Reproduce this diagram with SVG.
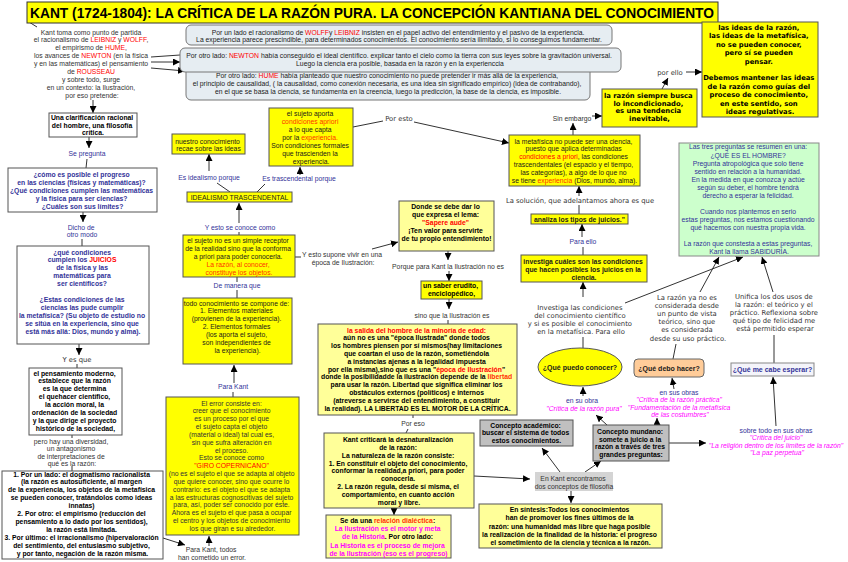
<svg xmlns="http://www.w3.org/2000/svg" width="848" height="562" viewBox="0 0 848 562">
<style>
.a{font-family:"Liberation Sans",Arial,sans-serif;font-size:6.8px;text-anchor:middle;fill:#1a1a1a}
.v{font-family:"DejaVu Sans",Verdana,sans-serif;font-size:6.8px;text-anchor:middle;fill:#333}
.b{font-weight:bold}
.g{fill:#333}
.bl{fill:#333399}
.r{fill:#ff0000}
.o{fill:#ff3300}
.m{fill:#ff00ff;font-style:italic}
.mb{fill:#ff00ff}
.y{fill:#ffff00;stroke:#555;stroke-width:1}
.ly{fill:#ffff99;stroke:#555;stroke-width:1}
.w{fill:#fff;stroke:#555;stroke-width:1}
.gr{fill:#c0c0c0;stroke:#555;stroke-width:1}
.bg{fill:#e6edf2;stroke:#777;stroke-width:1}
.c line,.c path{stroke:#333;stroke-width:1;fill:none}
.c .h{marker-end:url(#ah)}
</style>
<defs>
<marker id="ah" markerWidth="8" markerHeight="7" refX="7" refY="3.5" orient="auto" markerUnits="userSpaceOnUse"><path d="M0,0 L7,3.5 L0,7 Z" fill="#000"/></marker>
</defs>
<rect width="848" height="562" fill="#fff"/>

<g class="c" id="connectors">
<line x1="29" y1="22" x2="37" y2="27"/>
<line x1="151" y1="57" x2="180" y2="55"/>
<line class="h" x1="151" y1="62" x2="180" y2="62"/>
<line class="h" x1="151" y1="68" x2="185" y2="71"/>
<line class="h" x1="93" y1="100" x2="93" y2="113"/>
<line class="h" x1="89" y1="137" x2="89" y2="148"/>
<line x1="87" y1="159" x2="86" y2="168"/>
<line class="h" x1="83" y1="212" x2="83" y2="222"/>
<line x1="82" y1="239" x2="82" y2="246"/>
<line class="h" x1="79" y1="344" x2="79" y2="355"/>
<line x1="77" y1="364" x2="77" y2="368"/>
<line x1="72" y1="435" x2="72" y2="438"/>
<line x1="72" y1="466" x2="72" y2="471"/>
<line class="h" x1="163" y1="538" x2="185" y2="545"/>
<line class="h" x1="209" y1="546" x2="209" y2="536"/>
<line class="h" x1="209" y1="171" x2="209" y2="154"/>
<line x1="230" y1="192" x2="217" y2="183"/>
<line x1="257" y1="192" x2="265" y2="184"/>
<line class="h" x1="300" y1="175" x2="300" y2="167"/>
<line class="h" x1="239" y1="223" x2="239" y2="203"/>
<line x1="239" y1="232" x2="239" y2="235"/>
<line x1="237" y1="277" x2="237" y2="282"/>
<line x1="237" y1="290" x2="237" y2="298"/>
<line class="h" x1="234" y1="383" x2="234" y2="365"/>
<line x1="233" y1="392" x2="233" y2="397"/>
<line x1="295" y1="257" x2="301" y2="257"/>
<line class="h" x1="372" y1="249" x2="398" y2="242"/>
<line class="h" x1="448" y1="251" x2="448" y2="260"/>
<line class="h" x1="449" y1="271" x2="449" y2="281"/>
<line class="h" x1="449" y1="299" x2="449" y2="309"/>
<line x1="448" y1="320" x2="448" y2="324"/>
<line x1="413" y1="415" x2="413" y2="418"/>
<line x1="408" y1="429" x2="406" y2="433"/>
<line class="h" x1="394" y1="508" x2="394" y2="515"/>
<line class="h" x1="474" y1="476" x2="530" y2="479"/>
<line class="h" x1="560" y1="472" x2="542" y2="448"/>
<line class="h" x1="585" y1="472" x2="601" y2="461"/>
<line class="h" x1="571" y1="491" x2="571" y2="503"/>
<line class="h" x1="607" y1="425" x2="596" y2="415"/>
<line class="h" x1="657" y1="425" x2="657" y2="418"/>
<line class="h" x1="669" y1="443" x2="706" y2="443"/>
<line class="h" x1="776" y1="426" x2="773" y2="377"/>
<line class="h" x1="583" y1="396" x2="583" y2="387"/>
<line class="h" x1="674" y1="389" x2="672" y2="378"/>
<line x1="583" y1="337" x2="583" y2="348"/>
<line x1="676" y1="344" x2="673" y2="359"/>
<line x1="774" y1="335" x2="774" y2="363"/>
<line class="h" x1="700" y1="292" x2="719" y2="257"/>
<line class="h" x1="625" y1="303" x2="743" y2="257"/>
<line class="h" x1="773" y1="292" x2="762" y2="257"/>
<line class="h" x1="583" y1="297" x2="583" y2="282"/>
<line x1="583" y1="247" x2="583" y2="255"/>
<line class="h" x1="582" y1="237" x2="582" y2="224"/>
<line x1="579" y1="205" x2="579" y2="214"/>
<line class="h" x1="579" y1="196" x2="579" y2="186"/>
<line class="h" x1="573" y1="135" x2="573" y2="123"/>
<line class="h" x1="592" y1="116" x2="602" y2="116"/>
<line class="h" x1="662" y1="89" x2="668" y2="78"/>
<line class="h" x1="686" y1="72" x2="702" y2="72"/>
<line x1="353" y1="127" x2="383" y2="121"/>
<line class="h" x1="414" y1="122" x2="509" y2="143"/>
</g>

<g id="title">
<rect x="27" y="2" width="691" height="21" fill="#ffff00" stroke="#333"/>
<text x="30" y="18.3" font-family="Liberation Sans,Arial,sans-serif" font-size="15.5" font-weight="bold" fill="#000" textLength="684" lengthAdjust="spacingAndGlyphs">KANT (1724-1804): LA CRÍTICA DE LA RAZÓN PURA. LA CONCEPCIÓN KANTIANA DEL CONOCIMIENTO</text>
</g>

<g id="intro">
<text class="a g">
<tspan x="92" y="34.5">Kant toma como punto de partida</tspan>
<tspan x="92" y="42.4">el racionalismo de <tspan class="r">LEIBNIZ</tspan> y <tspan class="r">WOLFF</tspan>,</tspan>
<tspan x="92" y="50.3">el empirismo de <tspan class="r">HUME</tspan>,</tspan>
<tspan x="92" y="58.2">los avances de <tspan class="r">NEWTON</tspan> (en la física</tspan>
<tspan x="92" y="66.1">y en las matemáticas) el pensamiento</tspan>
<tspan x="92" y="74">de <tspan class="r">ROUSSEAU</tspan></tspan>
<tspan x="92" y="81.9">y sobre todo, surge</tspan>
<tspan x="92" y="89.8">en un contexto: la Ilustración,</tspan>
<tspan x="92" y="97.7">por eso pretende:</tspan>
</text>
</g>

<g id="racionalismo">
<rect class="bg" x="186" y="25" width="426" height="20" rx="5"/>
<text class="a">
<tspan x="399" y="34.5">Por un lado el racionalismo de <tspan class="r">WOLFF</tspan>y <tspan class="r">LEIBNIZ</tspan> insisten en el papel activo del entendimiento y el pasivo de la experiencia.</tspan>
<tspan x="399" y="42.3">La experiencia parece prescindible, para determinados conocimientos. El conocimiento sería ilimitado, si lo conseguimos fundamentar.</tspan>
</text>
</g>

<g id="hume">
<rect class="bg" x="186" y="66" width="404" height="34" rx="5"/>
<text class="a">
<tspan x="388" y="78.4">Por otro lado: <tspan class="r">HUME</tspan> había planteado que nuestro conocimiento no puede pretender ir más allá de la experiencia,</tspan>
<tspan x="388" y="86.4">el principio de causalidad, ( la causalidad, como conexión necesaria, es una idea sin significado empírico) (idea de contrabando),</tspan>
<tspan x="388" y="94.4">en el que se basa la ciencia, se fundamenta en la creencia, luego la predicción, la base de la ciencia, es imposible.</tspan>
</text>
</g>

<g id="newton">
<rect class="bg" x="180" y="48" width="441" height="24" rx="5"/>
<text class="a">
<tspan x="400" y="58.4">Por otro lado: <tspan class="r">NEWTON</tspan> había conseguido el ideal científico. explicar tanto el cielo como la tierra con sus leyes sobre la gravitación universal.</tspan>
<tspan x="400" y="66">Luego la ciencia era posible, basada en la razón y en la experienccia</tspan>
</text>
</g>

<g id="ideas-razon">
<rect class="y" x="702" y="22" width="116" height="95"/>
<text class="v b" style="fill:#000">
<tspan x="760" y="29.8">las ideas de la razón,</tspan>
<tspan x="760" y="38.3">las ideas de la metafísica,</tspan>
<tspan x="760" y="46.7">no se pueden conocer,</tspan>
<tspan x="760" y="55.1">pero sí se pueden</tspan>
<tspan x="760" y="63.5">pensar.</tspan>
<tspan x="760" y="80.3">Debemos mantener las ideas</tspan>
<tspan x="760" y="88.7">de la razón como guías del</tspan>
<tspan x="760" y="97.1">proceso de conocimiento,</tspan>
<tspan x="760" y="105.5">en este sentido, son</tspan>
<tspan x="760" y="113.9">ideas regulativas.</tspan>
</text>
</g>

<g id="lbl-por-ello"><text class="v" x="670" y="74.5">por ello</text></g>

<g id="incondicionado">
<rect class="y" x="602" y="89" width="95" height="38"/>
<text class="v b" style="fill:#000">
<tspan x="649.5" y="97.5">la razón siempre busca</tspan>
<tspan x="649.5" y="105.6">lo incondicionado,</tspan>
<tspan x="649.5" y="113.4">es una tendencia</tspan>
<tspan x="649.5" y="121">inevitable,</tspan>
</text>
</g>

<g id="lbl-sin-embargo"><text class="a g" x="572" y="120.5">Sin embargo</text></g>
<g id="lbl-por-esto"><text class="v" x="399" y="120.5">Por esto</text></g>

<g id="metafisica">
<rect class="y" x="509" y="135" width="131" height="51"/>
<text class="a">
<tspan x="574.5" y="143.5">la metafísica no puede ser una ciencia,</tspan>
<tspan x="574.5" y="151.3">puesto que aplica determinadas</tspan>
<tspan x="574.5" y="159.1"><tspan class="r">condiciones a priori</tspan>, las condiciones</tspan>
<tspan x="574.5" y="166.9">trascendentales (el espacio y el tiempo,</tspan>
<tspan x="574.5" y="174.7">las categorías), a algo de lo que no</tspan>
<tspan x="574.5" y="182.5">se tiene <tspan class="o">experiencia</tspan> (Dios, mundo, alma).</tspan>
</text>
</g>

<g id="lbl-solucion"><text class="v" x="580" y="202.5">La solución, que adelantamos ahora es que</text></g>

<g id="analiza">
<rect class="y" x="531" y="214" width="97" height="10"/>
<text class="a b" x="579.5" y="221.5">analiza los tipos de juicios."</text>
</g>

<g id="lbl-para-ello"><text class="a bl" x="583" y="243.5">Para ello</text></g>

<g id="investiga">
<rect class="y" x="521" y="255" width="126" height="27"/>
<text class="a b">
<tspan x="584" y="263.5">investiga cuáles son las condiciones</tspan>
<tspan x="584" y="271.8">que hacen posibles los juicios en la</tspan>
<tspan x="584" y="280">ciencia.</tspan>
</text>
</g>

<g id="lbl-investiga">
<text class="v">
<tspan x="581" y="309.5">Investiga las condiciones</tspan>
<tspan x="581" y="317.8">del conocimiento científico</tspan>
<tspan x="581" y="326.1">y si es posible el conocimiento</tspan>
<tspan x="581" y="334.4">en la metafísica. Para ello</tspan>
</text>
</g>

<g id="hombre">
<rect x="679" y="143" width="140" height="113" fill="#ccffcc" stroke="#888"/>
<text class="a bl">
<tspan x="749" y="149.2">Las tres preguntas se resumen en una:</tspan>
<tspan x="749" y="157.5">¿QUÉ ES EL HOMBRE?</tspan>
<tspan x="749" y="165.8">Pregunta atropológica que solo tiene</tspan>
<tspan x="749" y="174.1">sentido en relación a la humanidad.</tspan>
<tspan x="749" y="181.9">En la medida en que conozca y actúe</tspan>
<tspan x="749" y="189.8">según su deber, el hombre tendrá</tspan>
<tspan x="749" y="197.6">derecho a esperar la felicidad.</tspan>
<tspan x="749" y="213.5">Cuando nos plantemos en serio</tspan>
<tspan x="749" y="221.6">estas preguntas, nos estamos cuestionando</tspan>
<tspan x="749" y="229.7">qué hacemos con nuestra propia vida.</tspan>
<tspan x="749" y="245.7">La razón que constesta a estas preguntas,</tspan>
<tspan x="749" y="253.5">Kant la llama SABIDURÍA.</tspan>
</text>
</g>

<g id="lbl-practico">
<text class="v">
<tspan x="688" y="299.5">La razón ya no es</tspan>
<tspan x="688" y="307.7">considerada desde</tspan>
<tspan x="688" y="315.9">un punto de vista</tspan>
<tspan x="688" y="324.1">teórico, sino que</tspan>
<tspan x="688" y="332.3">es considerada</tspan>
<tspan x="688" y="340.5">desde su uso práctico.</tspan>
</text>
</g>

<g id="lbl-unifica">
<text class="v">
<tspan x="775" y="298.5">Unifica los dos usos de</tspan>
<tspan x="775" y="306.7">la razón: el teórico y el</tspan>
<tspan x="775" y="314.9">práctico. Reflexiona sobre</tspan>
<tspan x="775" y="323.1">qué tipo de felicidad me</tspan>
<tspan x="775" y="331.3">está permitido esperar</tspan>
</text>
</g>

<g id="conocer">
<ellipse cx="580" cy="367" rx="42" ry="19" fill="#ffff00" stroke="#555"/>
<text class="a b" x="580" y="369.5" style="font-size:7px">¿Qué puedo conocer?</text>
</g>

<g id="hacer">
<rect x="634" y="359" width="70" height="18" rx="4" fill="#ffcc99" stroke="#666"/>
<text class="a b" x="669" y="370.5" style="font-size:7px">¿Qué debo hacer?</text>
</g>

<g id="esperar">
<rect x="731" y="363" width="83" height="13" fill="#f4f4fa" stroke="#888"/>
<text class="a b bl" x="772.5" y="372" style="font-size:7px">¿Qué me cabe esperar?</text>
</g>

<g id="lbl-obra-pura">
<text class="a">
<tspan class="bl" x="583" y="402.5">en su obra</tspan>
<tspan class="m" x="584" y="410.5">"Crítica de la razón pura"</tspan>
</text>
</g>

<g id="lbl-obras-practica">
<text class="a">
<tspan class="bl" x="680" y="394.5">en sus obras</tspan>
<tspan class="m" x="680" y="401.8">"Crítica de la razón práctica"</tspan>
<tspan class="m" x="680" y="409.6">"Fundamentación de la metafísica</tspan>
<tspan class="m" x="680" y="417.4">de las costumbres"</tspan>
</text>
</g>

<g id="lbl-obras-juicio">
<text class="a">
<tspan class="bl" x="777" y="432.5">sobre todo en sus obras</tspan>
<tspan class="m" x="777" y="439.8">"Crítica del juicio"</tspan>
<tspan class="m" x="777" y="447.5">"La religión dentro de los límites de la razón"</tspan>
<tspan class="m" x="777" y="455.3">"La paz perpetua"</tspan>
</text>
</g>

<g id="mundano">
<rect class="gr" x="593" y="425" width="76" height="36"/>
<text class="a b" style="fill:#000">
<tspan x="631" y="434">Concepto mundano:</tspan>
<tspan x="631" y="441.6">somete a juicio a la</tspan>
<tspan x="631" y="449.3">razón a través de tres</tspan>
<tspan x="631" y="457.2">grandes preguntas:</tspan>
</text>
</g>

<g id="academico">
<rect class="gr" x="480" y="420" width="93" height="26"/>
<text class="a b" style="fill:#000">
<tspan x="526.5" y="427.6">Concepto académico:</tspan>
<tspan x="526.5" y="435.3">buscar el sistema de todos</tspan>
<tspan x="526.5" y="443">estos conocimientos.</tspan>
</text>
</g>

<g id="lbl-en-kant">
<rect x="535" y="472" width="78" height="19" fill="#d4d4d4"/>
<text class="a g">
<tspan x="574" y="480.5">En Kant encontramos</tspan>
<tspan x="574" y="488.5">dos conceptos de filosofía</tspan>
</text>
</g>

<g id="sintesis">
<rect class="ly" x="479" y="504" width="183" height="44"/>
<text class="a b" style="fill:#000">
<tspan x="570.5" y="512">En síntesis:Todos los conocimientos</tspan>
<tspan x="570.5" y="520.3">han de promover los fines últimos de la</tspan>
<tspan x="570.5" y="528.5">razón: una humanidad más libre que haga posible</tspan>
<tspan x="570.5" y="536.7">la realización de la finalidad de la historia: el progreso</tspan>
<tspan x="570.5" y="544.9">el sometimiento de la ciencia y técnica a la razón.</tspan>
</text>
</g>

<g id="criticara">
<rect class="ly" x="324" y="433" width="150" height="75"/>
<text class="a b" style="fill:#000">
<tspan x="399" y="441.8">Kant criticará la desnaturalización</tspan>
<tspan x="399" y="449.7">de la razón:</tspan>
<tspan x="399" y="457.6">La naturaleza de la razón consiste:</tspan>
<tspan x="399" y="465.5">1.  En constituir el objeto del conocimiento,</tspan>
<tspan x="399" y="473.4">conformar la realidad,a priori, para poder</tspan>
<tspan x="399" y="481.3">conocerla.</tspan>
<tspan x="399" y="489.2">2. La razón regula, desde sí misma, el</tspan>
<tspan x="399" y="497.1">comportamiento, en cuanto acción</tspan>
<tspan x="399" y="505">moral y libre.</tspan>
</text>
</g>

<g id="lbl-por-eso"><text class="a g" x="413" y="425.5">Por eso</text></g>

<g id="dialectica">
<rect class="ly" x="326" y="515" width="125" height="43"/>
<text class="a b" style="fill:#000">
<tspan x="388.5" y="523">Se da una <tspan class="o">relación dialéctica</tspan>:</tspan>
<tspan class="mb" x="388.5" y="531.2">La Ilustración es el motor y meta</tspan>
<tspan x="388.5" y="539.4"><tspan class="mb">de la Historia</tspan>. Por otro lado:</tspan>
<tspan class="mb" x="388.5" y="547.6">La Historia es el proceso de mejora</tspan>
<tspan class="mb" x="388.5" y="555.8">de la Ilustración (eso es el progreso)</tspan>
</text>
</g>

<g id="minoria">
<rect class="ly" x="318" y="324" width="199" height="91"/>
<text class="a b" style="fill:#000">
<tspan class="r" x="417.5" y="332.5">la salida del hombre de la minoría de edad:</tspan>
<tspan x="417.5" y="340.3">aún no es una "época Ilustrada" donde todos</tspan>
<tspan x="417.5" y="348.1">los hombres piensen por sí mismos(hay limitaciones</tspan>
<tspan x="417.5" y="355.9">que coartan el uso de la razón, sometiéndola</tspan>
<tspan x="417.5" y="363.7">a instancias ajenas a la legalidad impuesta</tspan>
<tspan x="417.5" y="371.5">por ella misma),sino que es una "<tspan class="r">época de Ilustración</tspan>"</tspan>
<tspan x="417.5" y="379.3">donde la posibilidadde la ilustración depende de la <tspan class="o">libertad</tspan></tspan>
<tspan x="417.5" y="387.1">para usar la razón. Libertad que significa eliminar los</tspan>
<tspan x="417.5" y="394.9">obstáculos externos (políticos) e internos</tspan>
<tspan x="417.5" y="402.7">(atreverse a servirse del entendimiento, a constituir</tspan>
<tspan x="417.5" y="410.5">la realidad). LA LIBERTAD ES EL MOTOR DE LA CRÍTICA.</tspan>
</text>
</g>

<g id="lbl-sino-que"><text class="a g" x="452" y="317.5">sino que la Ilustración es</text></g>

<g id="erudito">
<rect class="y" x="421" y="281" width="61" height="18"/>
<text class="a b" style="fill:#000">
<tspan x="451.5" y="287.8">un saber erudito,</tspan>
<tspan x="451.5" y="296.3">enciclopédico,</tspan>
</text>
</g>

<g id="lbl-porque"><text class="a g" x="448" y="268.5">Porque para Kant la Ilustración no es</text></g>

<g id="sapere">
<rect class="ly" x="399" y="201" width="95" height="50"/>
<text class="a b" style="fill:#000">
<tspan x="446.5" y="208.5">Donde se debe dar lo</tspan>
<tspan x="446.5" y="216.5">que expresa el lema:</tspan>
<tspan class="r" x="446.5" y="224.5">"Sapere aude"</tspan>
<tspan x="446.5" y="232.5">¡Ten valor para servirte</tspan>
<tspan x="446.5" y="240.5">de tu propio entendimiento!</tspan>
</text>
</g>

<g id="lbl-supone">
<text class="a g">
<tspan x="343" y="256.5">Y esto supone vivir en una</tspan>
<tspan x="343" y="264.5">época de Ilustración:</tspan>
</text>
</g>

<g id="ideas">
<rect class="y" x="172" y="134" width="73" height="20"/>
<text class="a">
<tspan x="208.5" y="143.5">nuestro conocimiento</tspan>
<tspan x="208.5" y="151">recae sobre las ideas</tspan>
</text>
</g>

<g id="lbl-idealismo"><text class="a bl" x="209" y="179.5">Es idealismo porque</text></g>
<g id="lbl-trascendental"><text class="a bl" x="299" y="180.5">Es trascendental porque</text></g>

<g id="idealismo-trascendental">
<rect class="y" x="187" y="192" width="105" height="10"/>
<text class="a" x="239.5" y="199.6">IDEALISMO TRASCENDENTAL</text>
</g>

<g id="aporta">
<rect class="y" x="269" y="108" width="84" height="58"/>
<text class="a">
<tspan x="311" y="115.5">el sujeto aporta</tspan>
<tspan class="o" x="311" y="123.5">condiciones apriori</tspan>
<tspan x="311" y="131.5">a lo que capta</tspan>
<tspan x="311" y="139.5">por la <tspan class="o">experiencia.</tspan></tspan>
<tspan x="311" y="147.5">Son condiciones formales</tspan>
<tspan x="311" y="155.5">que trascienden la</tspan>
<tspan x="311" y="163.5">experiencia.</tspan>
</text>
</g>

<g id="lbl-conoce-como"><text class="a bl" x="240" y="229.5">Y esto se conoce como</text></g>

<g id="receptor">
<rect class="y" x="183" y="235" width="112" height="42"/>
<text class="a">
<tspan x="239" y="242.5">el sujeto no es un simple receptor</tspan>
<tspan x="239" y="250.5">de la realidad sino que la conforma</tspan>
<tspan x="239" y="258.5">a priori para poder conocerla.</tspan>
<tspan class="o" x="239" y="266.5">La razón, al conocer,</tspan>
<tspan class="o" x="239" y="274.5">constituye los objetos.</tspan>
</text>
</g>

<g id="lbl-de-manera"><text class="a bl" x="237" y="287.5">De manera que</text></g>

<g id="compone">
<rect class="y" x="183" y="298" width="109" height="66"/>
<text class="a">
<tspan x="237.5" y="305.5">todo conocimiento se compone de:</tspan>
<tspan x="237.5" y="313.4">1. Elementos materiales</tspan>
<tspan x="237.5" y="321.3">(provienen de la experiencia).</tspan>
<tspan x="237.5" y="329.2">2. Elementos formales</tspan>
<tspan x="237.5" y="337.1">(los aporta el sujeto,</tspan>
<tspan x="237.5" y="345">son independientes de</tspan>
<tspan x="237.5" y="352.9">la experiencia).</tspan>
</text>
</g>

<g id="lbl-para-kant"><text class="a bl" x="233" y="388.5">Para Kant</text></g>

<g id="error">
<rect class="y" x="166" y="397" width="133" height="138"/>
<text class="a g">
<tspan x="232.5" y="405.5">El error consiste en:</tspan>
<tspan x="232.5" y="413.3">creer que el conocimiento</tspan>
<tspan x="232.5" y="421.2">es un proceso por el que</tspan>
<tspan x="232.5" y="429">el sujeto capta el objeto</tspan>
<tspan x="232.5" y="436.9">(material o ideal) tal cual es,</tspan>
<tspan x="232.5" y="444.7">sin que sufra alteración en</tspan>
<tspan x="232.5" y="452.5">el proceso.</tspan>
<tspan x="232.5" y="460.4">Esto se conoce como</tspan>
<tspan class="r" x="232.5" y="468.2">"GIRO COPERNICANO"</tspan>
<tspan x="232.5" y="476.1">(no es el sujeto el que se adapta al objeto</tspan>
<tspan x="232.5" y="483.9">que quiere conocer, sino que ocurre lo</tspan>
<tspan x="232.5" y="491.7">contrario: es el objeto el que se adapta</tspan>
<tspan x="232.5" y="499.6">a las estructuras cognoscitivas del sujeto</tspan>
<tspan x="232.5" y="507.4">para, así, poder ser conocido por éste.</tspan>
<tspan x="232.5" y="515.3">Ahora es el sujeto el que pasa a ocupar</tspan>
<tspan x="232.5" y="523.1">el centro y los objetos de conocimiento</tspan>
<tspan x="232.5" y="530.9">los que giran e su alrededor.</tspan>
</text>
</g>

<g id="lbl-todos-error">
<text class="a g">
<tspan x="212" y="551.5">Para Kant, todos</tspan>
<tspan x="212" y="559.5">han cometido un error.</tspan>
</text>
</g>

<g id="clarificacion">
<rect class="w" x="49" y="113" width="88" height="24"/>
<text class="a b" style="fill:#000">
<tspan x="93" y="119.6">Una clarificación racional</tspan>
<tspan x="93" y="127.5">del hombre, una filosofía</tspan>
<tspan x="93" y="135.3">crítica.</tspan>
</text>
</g>

<g id="lbl-se-pregunta"><text class="a bl" x="87" y="155.5">Se pregunta</text></g>

<g id="progreso">
<rect class="w" x="8" y="168" width="149" height="44"/>
<text class="a b bl">
<tspan x="82.5" y="176.5">¿cómo es posible el progreso</tspan>
<tspan x="82.5" y="184.5">en las ciencias (físicas y matemáticas)?</tspan>
<tspan x="82.5" y="192.5">¿Qué condiciones cumplen las matemáticas</tspan>
<tspan x="82.5" y="200.5">y la física para ser ciencias?</tspan>
<tspan x="82.5" y="208.5">¿Cuáles son sus límites?</tspan>
</text>
</g>

<g id="lbl-dicho">
<text class="a bl">
<tspan x="82" y="229.5">Dicho de</tspan>
<tspan x="82" y="237">otro modo</tspan>
</text>
</g>

<g id="juicios">
<rect class="w" x="17" y="246" width="132" height="98"/>
<text class="a b bl">
<tspan x="83" y="254.5">¿qué condiciones</tspan>
<tspan x="83" y="262.4">cumplen los <tspan class="r">JUICIOS</tspan></tspan>
<tspan x="83" y="270.3">de la física y las</tspan>
<tspan x="83" y="278.2">matemáticas para</tspan>
<tspan x="83" y="286.1">ser científicos?</tspan>
<tspan x="83" y="302.2">¿Estas condiciones de las</tspan>
<tspan x="83" y="310.1">ciencias las pude cumplir</tspan>
<tspan x="83" y="318">la metafísica? (Su objeto de estudio no</tspan>
<tspan x="83" y="325.9">se sitúa en la experiencia, sino que</tspan>
<tspan x="83" y="333.8">está más allá: Dios, mundo y alma).</tspan>
</text>
</g>

<g id="lbl-y-es-que"><text class="v" x="77" y="361.5">Y es que</text></g>

<g id="moderno">
<rect class="w" x="29" y="368" width="93" height="67"/>
<text class="a b" style="fill:#000">
<tspan x="75.5" y="375.5">el pensamiento moderno,</tspan>
<tspan x="75.5" y="383.4">establece que la razón</tspan>
<tspan x="75.5" y="391.3">es la que determina</tspan>
<tspan x="75.5" y="399.2">el quehacer científico,</tspan>
<tspan x="75.5" y="407.1">la acción moral, la</tspan>
<tspan x="75.5" y="415">ordenación de la sociedad</tspan>
<tspan x="75.5" y="422.9">y la que dirige el proyecto</tspan>
<tspan x="75.5" y="430.8">histórico de la sociedad,</tspan>
</text>
</g>

<g id="lbl-diversidad">
<text class="a g">
<tspan x="72" y="443.5">pero hay una diversidad,</tspan>
<tspan x="72" y="451">un antagonismo</tspan>
<tspan x="72" y="458.5">de interpretaciones de</tspan>
<tspan x="72" y="466">qué es la razón:</tspan>
</text>
</g>

<g id="interpretaciones">
<rect class="w" x="2" y="471" width="161" height="88"/>
<text class="a b" style="fill:#000">
<tspan x="82.5" y="476.5">1. Por un lado: el dogmatismo racionalista</tspan>
<tspan x="82.5" y="484.4">(la razón es autosuficiente, al margen</tspan>
<tspan x="82.5" y="492.3">de la experiencia, los objetos de la metafísica</tspan>
<tspan x="82.5" y="500.2">se pueden conocer, tratándolos como ideas</tspan>
<tspan x="82.5" y="508.1">innatas)</tspan>
<tspan x="82.5" y="516">2. Por otro: el empirismo (reducción del</tspan>
<tspan x="82.5" y="523.9">pensamiento a lo dado por los sentidos),</tspan>
<tspan x="82.5" y="531.8">la razón está limitada.</tspan>
<tspan x="82.5" y="539.7">3. Por último: el irracionalismo (hipervaloración</tspan>
<tspan x="82.5" y="547.6">del sentimiento, del entusiasmo subjetivo,</tspan>
<tspan x="82.5" y="555.5">y por tanto, negación de la razón misma.</tspan>
</text>
</g>
</svg>
